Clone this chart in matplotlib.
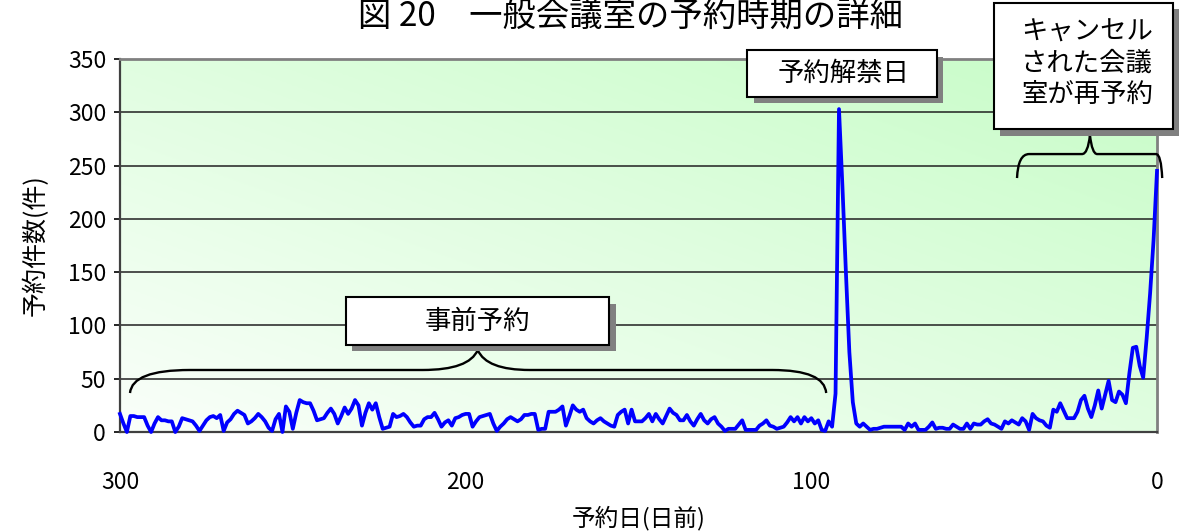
import numpy as np
import matplotlib
matplotlib.use("Agg")
import matplotlib.pyplot as plt
from matplotlib.patches import Rectangle, PathPatch
from matplotlib.path import Path

plt.rcParams['font.family'] = ['Noto Sans CJK JP', 'DejaVu Sans']

# 予約日(日前): 300 -> 0
days = list(range(300, -1, -1))

# 予約件数(件), one value per day (day 300 first)
counts_300_251 = [17, 8, 0, 15, 15, 14, 14, 14, 6, 0,
                  8, 14, 11, 11, 10, 10, 0, 5, 13, 12,
                  11, 10, 6, 1, 6, 11, 14, 15, 13, 16,
                  1, 9, 12, 17, 20, 18, 16, 8, 10, 13,
                  17, 14, 10, 4, 1, 12, 17, 0, 24, 19]
counts_250_201 = [3, 18, 30, 28, 27, 27, 20, 11, 12, 13,
                  18, 22, 17, 8, 15, 23, 17, 22, 30, 25,
                  6, 18, 27, 21, 27, 14, 3, 4, 5, 17,
                  14, 15, 17, 14, 9, 5, 6, 6, 12, 14,
                  14, 18, 12, 5, 9, 11, 6, 13, 14, 16]
counts_200_151 = [17, 17, 5, 10, 14, 15, 16, 17, 8, 1,
                  5, 8, 12, 14, 12, 10, 12, 16, 16, 17,
                  17, 2, 3, 3, 19, 19, 19, 21, 24, 6,
                  15, 25, 21, 19, 21, 13, 10, 8, 11, 13,
                  10, 8, 6, 5, 16, 19, 21, 8, 21, 10]
counts_150_101 = [10, 10, 13, 17, 10, 17, 12, 8, 15, 22,
                  18, 16, 11, 11, 16, 10, 6, 12, 17, 11,
                  8, 12, 14, 8, 5, 1, 3, 3, 3, 7,
                  11, 2, 2, 2, 2, 6, 8, 11, 6, 5,
                  3, 4, 5, 9, 14, 10, 14, 8, 14, 10]
counts_100_51 = [13, 8, 11, 2, 1, 10, 5, 36, 303, 230,
                 150, 75, 28, 8, 5, 8, 5, 2, 3, 3,
                 4, 5, 5, 5, 5, 5, 5, 2, 8, 5,
                 8, 2, 2, 2, 5, 9, 3, 4, 4, 3,
                 3, 7, 5, 3, 3, 8, 3, 8, 7, 7]
counts_50_0 = [10, 12, 8, 7, 5, 3, 10, 8, 11, 9,
               7, 13, 10, 2, 17, 13, 11, 10, 6, 4,
               21, 19, 27, 20, 13, 13, 13, 19, 30, 34,
               22, 14, 25, 39, 22, 35, 48, 30, 28, 38,
               35, 27, 55, 79, 80, 62, 51, 88, 130, 180,
               245]
counts = (counts_300_251 + counts_250_201 + counts_200_151
          + counts_150_101 + counts_100_51 + counts_50_0)

x_ticks = [300, 200, 100, 0]
y_ticks = [0, 50, 100, 150, 200, 250, 300, 350]

fig = plt.figure(figsize=(11.89, 5.31), dpi=100)
ax = fig.add_axes([0.1009, 0.1864, 0.8722, 0.7025])

# 背景のグラデーション (左下: 白 -> 右上: 薄緑)
n = 200
u = np.linspace(0, 1, n)
uu, vv = np.meshgrid(u, u)
t = (uu + vv[::-1]) / 2
c0 = np.array([0.98, 1.0, 0.98])
c1 = np.array([0.78, 0.99, 0.78])
img = c0[None, None, :] * (1 - t[..., None]) + c1[None, None, :] * t[..., None]
ax.imshow(img, extent=[300, 0, 0, 350], aspect='auto', zorder=0)

ax.set_xlim(300, 0)
ax.set_ylim(0, 350)
for yv in y_ticks[1:-1]:
    ax.axhline(yv, color='#202020', lw=1.1, zorder=1)

ax.plot(days, counts, color='#0000FF', lw=2.7, zorder=3, clip_on=False)

ax.set_xticks(x_ticks)
ax.set_yticks(y_ticks)
ax.tick_params(axis='x', length=0, pad=28, labelsize=16.5)
ax.tick_params(axis='y', length=4, width=1.2, labelsize=16.5, pad=6)
for s in ['left', 'bottom']:
    ax.spines[s].set_color('#404040')
    ax.spines[s].set_linewidth(1.6)
for s in ['top', 'right']:
    ax.spines[s].set_color('#808080')
    ax.spines[s].set_linewidth(2)
ax.set_xlabel('予約日(日前)', fontsize=17)
ax.xaxis.set_label_coords(0.5, (432 - 518) / 373)
ax.xaxis.label.set_va('center')
ax.set_ylabel('予約件数(件)', fontsize=18, labelpad=14)

fig.text(0.53, 1 - 26 / 531, '図 20　一般会議室の予約時期の詳細', fontsize=24,
         ha='center', va='baseline')


def callout(x0, x1, y0, y1, dx=1.8, dy=6.0):
    ax.add_patch(Rectangle((x0 - dx, y0 - dy), x1 - x0, y1 - y0,
                           fc='#808080', ec='none', zorder=5, clip_on=False))
    ax.add_patch(Rectangle((x0, y0), x1 - x0, y1 - y0, fc='white',
                           ec='black', lw=1.5, zorder=6, clip_on=False))


def brace(pts, codes):
    ax.add_patch(PathPatch(Path(pts, codes), fc='none', ec='black',
                           lw=1.7, zorder=4, clip_on=False))


M, L, C = Path.MOVETO, Path.LINETO, Path.CURVE3

# 事前予約
brace([(297.1, 36.6), (296.5, 58.2), (279.8, 58.2), (212.4, 58.2),
       (199.0, 58.2), (196.5, 76.9), (194.0, 58.2), (181.5, 58.2),
       (111.3, 58.2), (96.2, 58.2), (95.7, 36.6)],
      [M, C, C, L, C, C, C, C, L, C, C])
callout(234.7, 158.4, 81.6, 126.4)
ax.text(196.5, 104, '事前予約', fontsize=19, ha='center', va='center', zorder=7)

# 予約解禁日
callout(118.5, 63.6, 314.3, 358.3)
ax.text(90.8, 336.5, '予約解禁日', fontsize=19, ha='center', va='center',
        zorder=7)

# キャンセルされた会議室が再予約
brace([(40.5, 238.3), (40.2, 260.8), (37.0, 260.8), (21.7, 260.8),
       (20.0, 260.8), (19.4, 278.6), (18.8, 260.8), (17.3, 260.8),
       (0.3, 260.8), (-1.2, 260.8), (-1.5, 238.3)],
      [M, C, C, L, C, C, C, C, L, C, C])
callout(47.3, -4.6, 284.2, 403.0)
ax.text(20.2, 346, 'キャンセル\nされた会議\n室が再予約', fontsize=19,
        ha='center', va='center', linespacing=1.2, zorder=7)

fig.savefig('out.png', dpi=100)
